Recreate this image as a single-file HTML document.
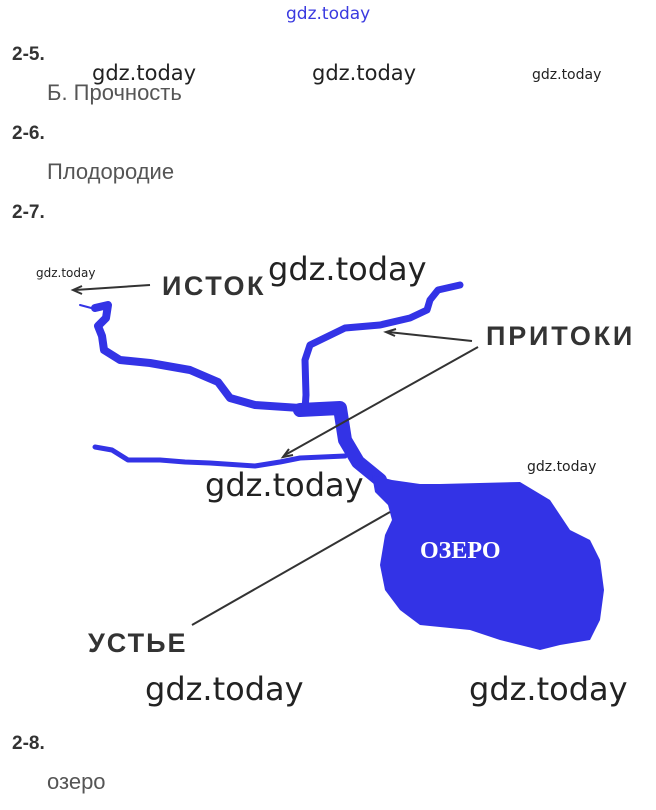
<!DOCTYPE html>
<html><head><meta charset="utf-8"><style>
html,body{margin:0;padding:0;background:#fff;}
svg{display:block}
.h{font-family:"Liberation Sans",sans-serif;font-weight:bold;font-size:19px;fill:#333}
.t{font-family:"Liberation Sans",sans-serif;font-size:22px;fill:#555}
.w{font-family:"DejaVu Sans","Liberation Sans",sans-serif;fill:#222;font-weight:normal}
.lb{font-family:"Liberation Sans",sans-serif;font-weight:bold;fill:#333}
</style></head><body>
<svg width="656" height="810" viewBox="0 0 656 810" xmlns="http://www.w3.org/2000/svg">
<text x="286" y="19" font-family="DejaVu Sans,sans-serif" font-size="17" fill="#3a3ae0">gdz.today</text>
<text class="h" x="12" y="60">2-5.</text>
<text class="w" x="92" y="80" font-size="21">gdz.today</text>
<text class="w" x="312" y="80" font-size="21">gdz.today</text>
<text class="w" x="532" y="79" font-size="14">gdz.today</text>
<text class="t" x="47" y="100">Б. Прочность</text>
<text class="h" x="12" y="139">2-6.</text>
<text class="t" x="47" y="179">Плодородие</text>
<text class="h" x="12" y="218">2-7.</text>

<!-- river -->
<g fill="none" stroke="#3333e6" stroke-linejoin="round" stroke-linecap="round">
<path d="M80 305 L95 309" stroke-width="2"/>
<path d="M95 308 L108 305 L106 318 L98 326 L102 336 L104 350 L120 360 L150 363 L190 370 L218 382 L230 398 L255 405 L300 408 L330 410" stroke-width="8"/>
<path d="M300 410 L340 408 L345 440 L358 462 L380 480" stroke-width="14"/>
<path d="M460 285 L438 290 L430 300 L427 310 L410 318 L380 325 L345 328 L310 345 L305 360 L306 395 L305 410" stroke-width="7"/>
<path d="M95 447 L112 450 L128 460 L160 460 L185 462 L210 463 L255 466 L280 462 L300 458 L345 456" stroke-width="5"/>
</g>
<path d="M372 475 L392 480 L420 484 L440 484 L520 482 L550 500 L570 530 L590 540 L600 560 L604 590 L600 620 L590 640 L560 645 L540 650 L500 640 L470 630 L450 628 L420 625 L400 610 L385 590 L380 565 L385 535 L392 520 L388 505 L375 492 Z" fill="#3333e6"/>
<text x="420" y="558" font-family="Liberation Serif,serif" font-weight="bold" font-size="24" fill="#fff">ОЗЕРО</text>

<!-- pointer lines -->
<g stroke="#333" stroke-width="2" fill="none">
<line x1="150" y1="285" x2="75" y2="290"/>
<polyline points="82,286 73,290 82,294"/>
<line x1="472" y1="341" x2="388" y2="332"/>
<polyline points="396,329 386,332 395,336"/>
<line x1="478" y1="347" x2="285" y2="455"/>
<polyline points="289,449 283,457 293,455"/>
<line x1="192" y1="625" x2="390" y2="512"/>
</g>
<text class="w" x="36" y="277" font-size="12">gdz.today</text>
<text class="lb" x="162" y="295" font-size="27" letter-spacing="2.5">ИСТОК</text>
<text class="w" x="268" y="280" font-size="32">gdz.today</text>
<text class="lb" x="486" y="345" font-size="27" letter-spacing="2.8">ПРИТОКИ</text>
<text class="w" x="527" y="471" font-size="14">gdz.today</text>
<text class="w" x="205" y="496" font-size="32">gdz.today</text>
<text class="lb" x="88" y="652" font-size="27" letter-spacing="2">УСТЬЕ</text>
<text class="w" x="145" y="700" font-size="32">gdz.today</text>
<text class="w" x="469" y="700" font-size="32">gdz.today</text>

<text class="h" x="12" y="749">2-8.</text>
<text class="t" x="47" y="789">озеро</text>
</svg>
</body></html>
